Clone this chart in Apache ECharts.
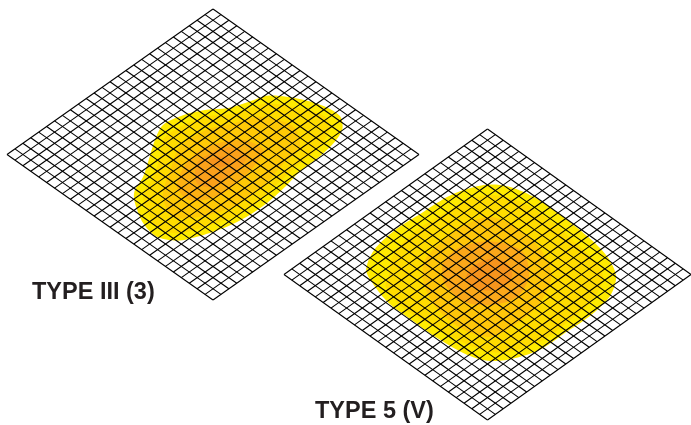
<!DOCTYPE html>
<html><head><meta charset="utf-8">
<style>html,body{margin:0;padding:0;background:#fff}#c{width:691px;height:425px}</style>
<script src="https://cdn.jsdelivr.net/npm/echarts@6/dist/echarts.min.js"></script>
</head><body><div id="c"></div>
<script>
const cells = 26;
const sheetUnits = 28;
const labels = ['TYPE III (3)', 'TYPE 5 (V)'];
const type3Colors = ['#FFEB00', '#FFDC00', '#FFC907', '#FDB113', '#FAA01B', '#F7941D'];
const type5Colors = ['#FFEB00', '#FFDC00', '#FFC60A', '#FBA81A', '#F7941D'];
// Outlines as [across, along] in sheet units
const type3Band1 = [[7.3,16.7],[10,16.9],[13.2,17.8],[15.7,19.1],[17.3,20.7],[17.6,23],[16.6,25.5],[14.5,28.4],[11.8,31.3],[9.6,34.5],[7.3,37.4],[4.6,40],[1.9,41.9],[-1.8,43.7],[-4.9,44.6],[-7.7,43.8],[-9.5,41.2],[-10.6,37.4],[-10.7,35.2],[-9.5,32.3],[-8.6,28.4],[-7.9,25.2],[-6.8,22.3],[-4,20.4],[-0.9,19.4],[1.9,19.1],[5,17.8]];
const type3Band2 = [[7.3,18.2],[11.8,19.1],[15.2,20.7],[15.9,23],[14.5,26.5],[11.8,29.7],[9.1,33.2],[6.4,36.8],[2.8,40],[-1.8,42.2],[-4.9,43.2],[-7.7,41.9],[-8.8,39.3],[-9.5,35.8],[-8.1,32.3],[-7.2,28.4],[-6.8,25.2],[-4.9,23],[-0.9,20.7],[2.8,20.1]];
const type3Band3 = [[6.4,20.7],[10.9,22.6],[11.8,26.5],[9.6,29.7],[6.8,34.2],[2.8,38],[-1.8,40],[-5.4,40],[-6.8,36.1],[-5.8,31],[-4.5,26.5],[-0.9,23.3],[2.8,22]];
const type3Band4 = [[4.1,25.2],[6.8,27.1],[5.9,29.7],[3.7,32.9],[0.5,36.1],[-3.1,36.8],[-4.9,34.2],[-3.6,29.7],[-0.9,26.5]];
const type3Band5 = [[2.3,26.5],[4.6,28.4],[2.8,31.6],[0,34.2],[-2.2,33.5],[-2.2,29.7],[-0.4,27.8]];
const type3Band6 = [[1,28.4],[2.5,29.1],[1.4,30.3],[0,30],[-0.4,29.1]];
const type5Band1 = [[-0.5,10.8],[2.7,11],[6.3,13],[10,16.5],[13.8,20.7],[16.5,24.6],[17.7,28.4],[16.8,32.3],[14,36.1],[10.6,39.3],[7.2,42.5],[3.2,44.3],[0,44.6],[-3.2,43.2],[-7.2,40],[-10.4,36.8],[-13.6,33.5],[-15.8,29.7],[-16.7,27.1],[-15.6,23.3],[-12.7,19.4],[-9.1,16.2],[-5,12.7]];
const type5Band2 = [[0,12.7],[4.1,13.7],[8.6,17.5],[12.2,22],[15,25.9],[15.9,28.7],[14.5,32.9],[11.3,36.8],[7.7,40.6],[3.2,42.8],[0,42.8],[-4.1,40.6],[-8.2,37.4],[-11.8,34.2],[-14,30.3],[-13.6,28.4],[-13.1,24.6],[-10.4,20.1],[-6.8,16.9],[-3.2,14]];
const type5Band3 = [[0.5,16.9],[4.5,19.4],[7.7,23.9],[8.8,28.4],[7.2,33.5],[4.1,37.4],[0.5,40],[-3.2,38.7],[-6.8,34.8],[-8.8,29.7],[-8.6,25.2],[-5.4,20.7],[-2.7,18.2]];
const type5Band4 = [[-0.9,21.7],[2.3,22],[5,23.9],[5.7,28.4],[4.1,32.3],[0.5,33.9],[-3.2,33.2],[-5.9,29.7],[-6.1,25.8],[-4.1,23]];
const type5Band5 = [[0.5,24.9],[2.7,25.9],[3.4,28.4],[1.8,30.7],[-0.9,31],[-2.9,29.1],[-2.3,26.8]];

const panels = [
  {bands:[type3Band1,type3Band2,type3Band3,type3Band4,type3Band5,type3Band6], colors:type3Colors},
  {bands:[type5Band1,type5Band2,type5Band3,type5Band4,type5Band5], colors:type5Colors}
];
const gridBoxes = [{left:7,top:9,width:412,height:291},{left:284,top:129,width:412,height:291}];

const sheetLines = [];
for (let i = 0; i <= cells; i++) {
  const k = i * sheetUnits / cells;
  sheetLines.push([k, k, k - sheetUnits, k + sheetUnits]);
  sheetLines.push([-k, k, sheetUnits - k, sheetUnits + k]);
}

const series = [];
panels.forEach((p, i) => {
  p.bands.forEach((band, b) => {
    series.push({
      type:'custom', xAxisIndex:i, yAxisIndex:i, silent:true, clip:false, z:2+b,
      data:[0],
      renderItem(params, api){
        return {type:'polygon', shape:{points:band.map(pt => api.coord(pt)), smooth:0.3},
                style:{fill:p.colors[b], stroke:null}};
      }
    });
  });
  series.push({
    type:'custom', xAxisIndex:i, yAxisIndex:i, silent:true, clip:false, z:20,
    encode:{x:[0,2],y:[1,3]},
    data:sheetLines,
    renderItem(params, api){
      const a = api.coord([api.value(0), api.value(1)]);
      const b = api.coord([api.value(2), api.value(3)]);
      return {type:'line', shape:{x1:a[0],y1:a[1],x2:b[0],y2:b[1]},
              style:{stroke:'#000', lineWidth:1.1, fill:null}};
    }
  });
});

const chart = echarts.init(document.getElementById('c'), null, {renderer:'canvas'});
const axisBase = {show:false, type:'value'};
const labelStyle = {fontFamily:'Liberation Sans', fontWeight:'bold', fontSize:23.5, color:'#231F20'};
chart.setOption({
  animation:false,
  backgroundColor:'#fff',
  title:[
    {text:labels[0], left:32, top:281, padding:0, textStyle:labelStyle},
    {text:labels[1], left:315, top:400, padding:0, textStyle:labelStyle}
  ],
  grid:gridBoxes,
  xAxis:gridBoxes.map((g,i)=>({...axisBase, gridIndex:i, min:-sheetUnits, max:sheetUnits})),
  yAxis:gridBoxes.map((g,i)=>({...axisBase, gridIndex:i, min:0, max:2*sheetUnits, inverse:true})),
  series
});
</script></body></html>
